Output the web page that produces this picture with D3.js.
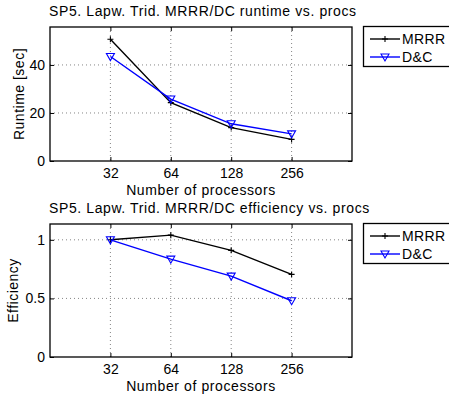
<!DOCTYPE html>
<html><head><meta charset="utf-8">
<script src="https://cdn.jsdelivr.net/npm/d3@7"></script>
<style>body{margin:0;background:#fff;}svg{display:block;font-family:"Liberation Sans",Arial,sans-serif;}</style>
</head><body>
<svg id="c" width="449" height="400"></svg>
<script>
const procs = [32, 64, 128, 256];
const xTickLabels = ["32", "64", "128", "256"];
const runtimeMRRR = [50.7, 24.3, 13.9, 9.0];
const runtimeDC = [43.5, 25.8, 15.5, 11.3];
const effMRRR = [1.0, 1.04, 0.91, 0.705];
const effDC = [1.0, 0.835, 0.69, 0.48];
const runtimeTicks = [0, 20, 40];
const effTicks = [0, 0.5, 1];
const seriesNames = ["MRRR", "D&C"];
const seriesColors = ["#000000", "#0000ff"];

const svg = d3.select("#c");

function panel(cfg) {
  const g = svg.append("g");
  const x = d3.scaleLog().base(2).domain([16, 512]).range([cfg.left, cfg.right]);
  const y = d3.scaleLinear().domain(cfg.ydom).range([cfg.bottom, cfg.top]);
  // grid
  g.selectAll(".gx").data(procs).enter().append("line")
    .attr("x1", d => x(d)).attr("x2", d => x(d)).attr("y1", cfg.top).attr("y2", cfg.bottom)
    .attr("stroke", "#777").attr("stroke-width", 0.9).attr("stroke-dasharray", "1,3");
  g.selectAll(".gy").data(cfg.yticks.filter(t => t !== 0)).enter().append("line")
    .attr("y1", d => y(d)).attr("y2", d => y(d)).attr("x1", cfg.left).attr("x2", cfg.right)
    .attr("stroke", "#777").attr("stroke-width", 0.9).attr("stroke-dasharray", "1,3");
  // axes
  const xb = d3.axisBottom(x).tickValues(procs).tickFormat((d, i) => xTickLabels[i]).tickSizeInner(-4).tickSizeOuter(0).tickPadding(7);
  const xt = d3.axisTop(x).tickValues(procs).tickFormat("").tickSizeInner(-4).tickSizeOuter(0);
  const yl = d3.axisLeft(y).tickValues(cfg.yticks).tickFormat(cfg.fmt).tickSizeInner(-4).tickSizeOuter(0).tickPadding(5);
  const yr = d3.axisRight(y).tickValues(cfg.yticks).tickFormat("").tickSizeInner(-4).tickSizeOuter(0);
  const ax = [
    g.append("g").attr("transform", `translate(0,${cfg.bottom})`).call(xb),
    g.append("g").attr("transform", `translate(0,${cfg.top})`).call(xt),
    g.append("g").attr("transform", `translate(${cfg.left},0)`).call(yl),
    g.append("g").attr("transform", `translate(${cfg.right},0)`).call(yr)
  ];
  ax.forEach(a => {
    a.select(".domain").remove();
    a.selectAll("text").attr("font-size", 14).attr("font-family", "Liberation Sans, Arial, sans-serif").attr("fill", "#000");
    a.selectAll("line").attr("stroke", "#000");
  });
  g.append("rect").attr("x", cfg.left).attr("y", cfg.top).attr("width", cfg.right - cfg.left).attr("height", cfg.bottom - cfg.top)
    .attr("fill", "none").attr("stroke", "#000").attr("stroke-width", 1.3);
  // series
  const line = d3.line().x((d, i) => x(procs[i])).y(d => y(d));
  cfg.series.forEach((vals, s) => {
    g.append("path").datum(vals).attr("d", line).attr("fill", "none").attr("stroke", seriesColors[s]).attr("stroke-width", 1.4);
    vals.forEach((v, i) => drawMarker(g, s, x(procs[i]), y(v)));
  });
  // title
  g.append("text").attr("x", cfg.left - 1).attr("y", cfg.top - 11.5).text(cfg.title).attr("font-size", 14).attr("letter-spacing", 0.6);
  // labels
  g.append("text").attr("x", (cfg.left + cfg.right) / 2).attr("y", cfg.bottom + 33.5).attr("text-anchor", "middle").attr("font-size", 14).attr("letter-spacing", 0.6).text("Number of processors");
  g.append("text").attr("transform", `translate(${cfg.ylabX},${(cfg.top + cfg.bottom) / 2}) rotate(-90)`).attr("text-anchor", "middle").attr("font-size", 14).attr("letter-spacing", 0.5).text(cfg.ylabel);
  // legend
  const lg = g.append("g");
  lg.append("rect").attr("x", 363.5).attr("y", cfg.top - 0.5).attr("width", 100).attr("height", 40).attr("fill", "#fff").attr("stroke", "#000").attr("stroke-width", 1.3);
  seriesNames.forEach((n, s) => {
    const ly = cfg.top + 12 + s * 18;
    lg.append("line").attr("x1", 370).attr("x2", 400).attr("y1", ly).attr("y2", ly).attr("stroke", seriesColors[s]).attr("stroke-width", 1.4);
    drawMarker(lg, s, 385, ly);
    lg.append("text").attr("x", 402).attr("y", ly + 5).attr("font-size", 14).attr("letter-spacing", 0.4).text(n);
  });
}

function drawMarker(g, s, cx, cy) {
  if (s === 0) {
    g.append("path").attr("d", `M${cx - 3},${cy}H${cx + 3}M${cx},${cy - 3}V${cy + 3}`).attr("stroke", seriesColors[0]).attr("stroke-width", 1.1);
  } else {
    g.append("path").attr("d", `M${cx - 4},${cy - 3}L${cx + 4},${cy - 3}L${cx},${cy + 4}Z`).attr("fill", "none").attr("stroke", seriesColors[1]).attr("stroke-width", 1.1);
  }
}

panel({ top: 27, bottom: 161, left: 50, right: 352, ydom: [0, 55.8], yticks: runtimeTicks, fmt: d3.format("d"),
  series: [runtimeMRRR, runtimeDC], title: "SP5. Lapw. Trid. MRRR/DC runtime vs. procs", ylabel: "Runtime [sec]", ylabX: 24 });
panel({ top: 224, bottom: 357, left: 50, right: 352, ydom: [0, 1.135], yticks: effTicks, fmt: d => String(d),
  series: [effMRRR, effDC], title: "SP5. Lapw. Trid. MRRR/DC efficiency vs. procs", ylabel: "Efficiency", ylabX: 18 });
</script>
</body></html>
